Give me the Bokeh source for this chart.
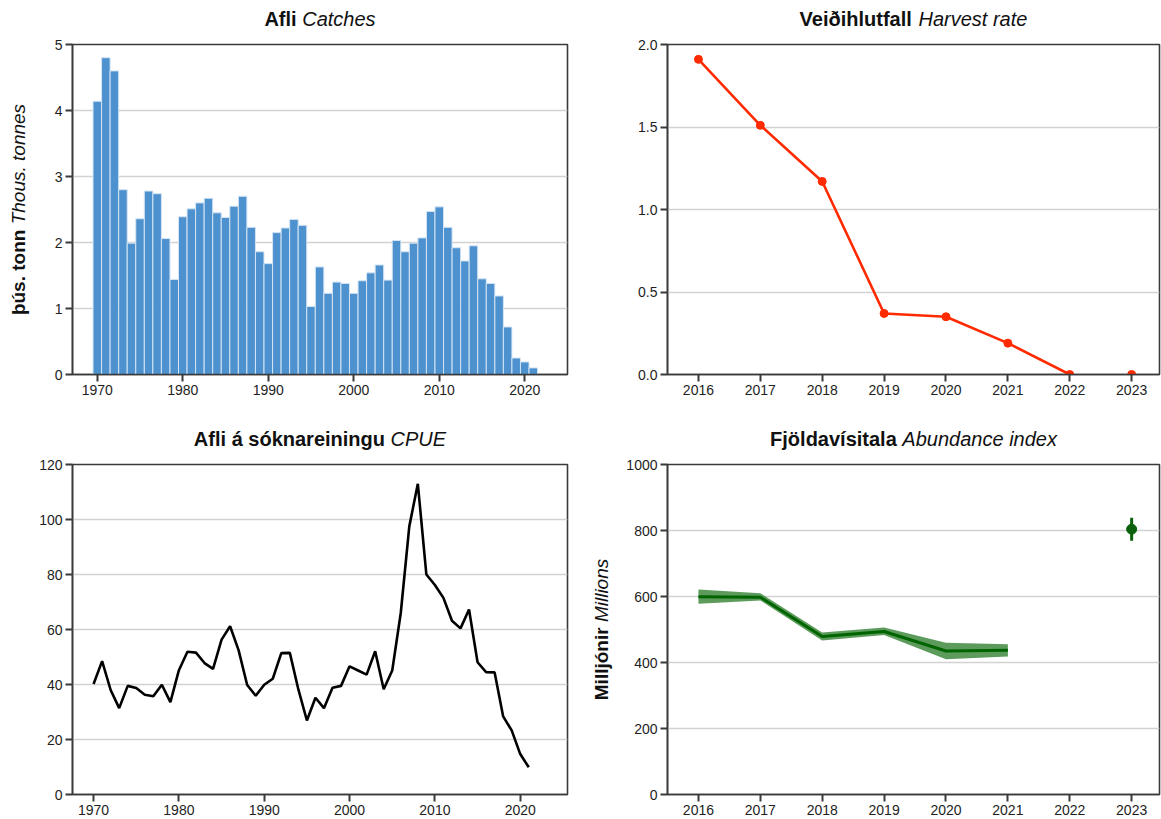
import math
from bokeh.plotting import figure
from bokeh.layouts import row, column
from bokeh.models import Label, FixedTicker, Range1d, PrintfTickFormatter
from bokeh.embed import file_html
from bokeh.resources import INLINE

# ---------------- data ----------------
catch_years = list(range(1970, 2022))
catch = [4.14, 4.80, 4.60, 2.80, 1.99, 2.36, 2.78, 2.74, 2.06, 1.44,
         2.39, 2.51, 2.60, 2.67, 2.45, 2.38, 2.55, 2.70, 2.23, 1.86,
         1.68, 2.15, 2.22, 2.35, 2.26, 1.03, 1.63, 1.23, 1.40, 1.38,
         1.23, 1.42, 1.54, 1.66, 1.43, 2.03, 1.86, 1.99, 2.07, 2.47,
         2.54, 2.23, 1.92, 1.72, 1.95, 1.45, 1.38, 1.19, 0.72, 0.25,
         0.19, 0.10]

cpue_years = list(range(1970, 2022))
cpue = [40.2, 48.5, 38.0, 31.4, 39.5, 38.7, 36.3, 35.7, 39.9, 33.6,
        45.2, 51.9, 51.6, 47.8, 45.7, 56.3, 61.2, 52.4, 39.8, 35.9,
        39.9, 42.1, 51.4, 51.5, 38.2, 26.9, 35.2, 31.4, 38.8, 39.5,
        46.6, 45.1, 43.6, 52.1, 38.3, 45.1, 66.0, 97.5, 113.0, 80.0,
        76.2, 71.5, 63.2, 60.4, 67.3, 48.1, 44.5, 44.4, 28.4, 23.3,
        14.7, 9.9]

hr_years = [2016, 2017, 2018, 2019, 2020, 2021, 2022, 2023]
harvest = [1.91, 1.51, 1.17, 0.37, 0.35, 0.19, 0.0, 0.0]

ab_years = [2016, 2017, 2018, 2019, 2020, 2021]
ab_index = [599, 598, 479, 494, 435, 437]
ab_lower = [578, 588, 467, 483, 410, 418]
ab_upper = [621, 610, 491, 506, 460, 455]
surv_year = [2023]
surv_index = [804]
surv_lower = [769]
surv_upper = [839]

year_ticks_long = [1970, 1980, 1990, 2000, 2010, 2020]
year_ticks_short = [2016, 2017, 2018, 2019, 2020, 2021, 2022, 2023]

# ---------------- styling helpers ----------------
FONT = "Liberation Sans"
TICK_FS = 14
TITLE_FS = 20
YLAB_FS = 19
TITLE_RISE = 25.5

W_REG = {' ': 278, '.': 278, 'A': 667, 'C': 722, 'E': 667, 'H': 722, 'M': 833,
         'P': 667, 'T': 611, 'U': 722, 'a': 556, 'b': 556, 'c': 500, 'd': 556,
         'e': 556, 'f': 278, 'h': 556, 'i': 222, 'j': 222, 'l': 222, 'n': 556,
         'o': 556, 'r': 333, 's': 500, 't': 278, 'u': 556, 'v': 500, 'x': 500}
W_BOLD = {' ': 278, '.': 278, 'A': 722, 'F': 611, 'M': 833, 'V': 667, 'a': 556,
          'd': 611, 'e': 556, 'f': 333, 'g': 611, 'h': 611, 'i': 278, 'j': 278,
          'k': 556, 'l': 278, 'n': 611, 'o': 611, 'r': 389, 's': 556, 't': 333,
          'u': 611, 'v': 556, 'á': 556, 'í': 278, 'ó': 611, 'ö': 611, 'ú': 611,
          'þ': 611, 'ð': 611}


def tw(s, fs, bold=False):
    t = W_BOLD if bold else W_REG
    return sum(t.get(c, 556) for c in s) * fs / 1000.0


def style(p, xticks, yticks, fmt=None):
    p.outline_line_color = "#3a3a3a"
    p.outline_line_width = 1.6
    p.outline_line_alpha = 1.0
    p.xgrid.grid_line_color = None
    p.ygrid.grid_line_color = "#d2d2d2"
    p.ygrid.grid_line_width = 1.5
    p.xaxis.ticker = FixedTicker(ticks=xticks)
    p.yaxis.ticker = FixedTicker(ticks=yticks)
    if fmt is not None:
        p.yaxis.formatter = fmt
    for ax in (p.xaxis, p.yaxis):
        ax.axis_line_color = "#3a3a3a"
        ax.axis_line_width = 1.6
        ax.major_tick_line_color = "#3a3a3a"
        ax.major_tick_line_width = 2
        ax.major_tick_out = 7
        ax.major_tick_in = 0
        ax.minor_tick_line_color = None
        ax.major_label_text_font = FONT
        ax.major_label_text_font_size = f"{TICK_FS}px"
        ax.major_label_text_color = "#1e1e1e"
        ax.major_label_standoff = 3


def add_title(p, xr, ytop, bold, ital):
    """Two-part title (bold + italic) centred above the frame, placed in the
    'above' side panel (not clipped), anchored in data units."""
    wb = tw(bold + " ", TITLE_FS, True)
    wi = tw(ital, TITLE_FS)
    W = wb + wi
    xmid = (xr[0] + xr[1]) / 2
    for txt, off, fst in ((bold, -W / 2, "bold"), (ital, -W / 2 + wb, "italic")):
        p.add_layout(Label(x=xmid, y=ytop, x_units="data", y_units="data", text=txt,
                           x_offset=off, y_offset=TITLE_RISE, text_align="left",
                           text_baseline="alphabetic", text_font=FONT,
                           text_font_size=f"{TITLE_FS}px", text_font_style=fst,
                           text_color="#111111"), "above")


def add_ylabel(p, xleft, ymid, dx, bold, ital):
    """Two-part rotated axis label (bold + italic), in the 'left' side panel."""
    wb = tw(bold + " ", YLAB_FS, True)
    wi = tw(ital, YLAB_FS)
    W = wb + wi
    for txt, off, fst in ((bold, -W / 2, "bold"), (ital, -W / 2 + wb, "italic")):
        p.add_layout(Label(x=xleft, y=ymid, x_units="data", y_units="data", text=txt,
                           x_offset=dx, y_offset=off, angle=math.pi / 2,
                           text_align="left", text_baseline="middle", text_font=FONT,
                           text_font_size=f"{YLAB_FS}px", text_font_style=fst,
                           text_color="#111111"), "left")


common = dict(output_backend="svg", toolbar_location=None, title=None)

# ---------------- top-left: catches ----------------
x1 = (1967.1, 2025.0)
y1 = (0, 5)
p1 = figure(width=580, height=410, x_range=Range1d(*x1), y_range=Range1d(*y1),
            min_border_left=72, min_border_right=13, min_border_top=44,
            min_border_bottom=36, **common)
p1.vbar(x=catch_years, top=catch, width=1.0, bottom=0,
        fill_color="#4d92cf", line_color="#d4e4f4", line_width=1)
style(p1, year_ticks_long, [0, 1, 2, 3, 4, 5])
add_title(p1, x1, y1[1], "Afli", "Catches")
add_ylabel(p1, x1[0], sum(y1) / 2, -54, "þús. tonn", "Thous. tonnes")

# ---------------- top-right: harvest rate ----------------
x2 = (2015.5, 2023.45)
y2 = (0, 2.0)
p2 = figure(width=581, height=410, x_range=Range1d(*x2), y_range=Range1d(*y2),
            min_border_left=87, min_border_right=2, min_border_top=44,
            min_border_bottom=36, **common)
p2.line(hr_years[:7], harvest[:7], line_color="#ff2a00", line_width=2.6)
p2.scatter(hr_years, harvest, size=8, fill_color="#ff2a00", line_color="#ff2a00")
style(p2, year_ticks_short, [0, 0.5, 1.0, 1.5, 2.0], PrintfTickFormatter(format="%.1f"))
add_title(p2, x2, y2[1], "Veiðihlutfall", "Harvest rate")

# ---------------- bottom-left: CPUE ----------------
x3 = (1967.53, 2025.54)
y3 = (0, 120)
p3 = figure(width=580, height=409, x_range=Range1d(*x3), y_range=Range1d(*y3),
            min_border_left=72, min_border_right=13, min_border_top=54,
            min_border_bottom=25, **common)
p3.line(cpue_years, cpue, line_color="black", line_width=2.6)
style(p3, year_ticks_long, [0, 20, 40, 60, 80, 100, 120])
add_title(p3, x3, y3[1], "Afli á sóknareiningu", "CPUE")

# ---------------- bottom-right: abundance index ----------------
x4 = (2015.5, 2023.45)
y4 = (0, 1000)
p4 = figure(width=581, height=409, x_range=Range1d(*x4), y_range=Range1d(*y4),
            min_border_left=87, min_border_right=2, min_border_top=54,
            min_border_bottom=25, **common)
p4.varea(x=ab_years, y1=ab_lower, y2=ab_upper, fill_color="#3f8a3f", fill_alpha=0.85)
p4.line(ab_years, ab_index, line_color="#006400", line_width=3)
p4.segment(x0=surv_year, y0=surv_lower, x1=surv_year, y1=surv_upper,
           line_color="#0b610b", line_width=3)
p4.scatter(surv_year, surv_index, size=10, fill_color="#0b610b", line_color="#0b610b")
style(p4, year_ticks_short, [0, 200, 400, 600, 800, 1000])
add_title(p4, x4, y4[1], "Fjöldavísitala", "Abundance index")
add_ylabel(p4, x4[0], sum(y4) / 2, -66, "Milljónir", "Millions")

layout = column(row(p1, p2), row(p3, p4))
open("out.html", "w").write(file_html(layout, INLINE))
